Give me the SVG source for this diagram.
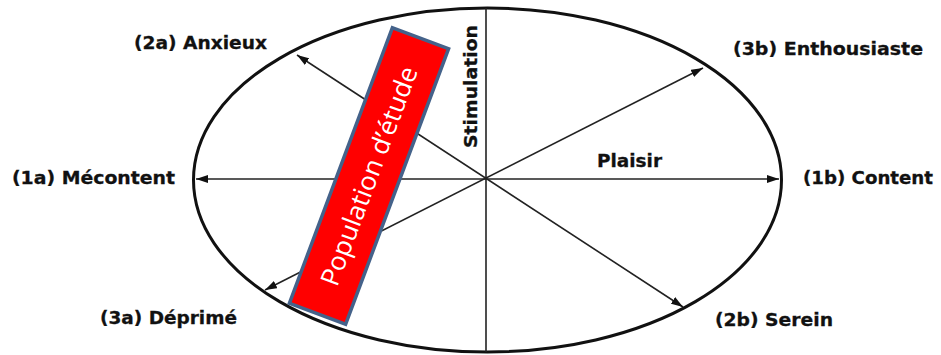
<svg xmlns="http://www.w3.org/2000/svg" width="941" height="355" viewBox="0 0 941 355">
<style>
.lbl{font-family:"DejaVu Sans",sans-serif;font-weight:bold;font-size:18px;fill:#111;stroke:#111;stroke-width:0.3}
.ax{stroke:#222;stroke-width:1.6;fill:none}
</style>
<defs>
<marker id="ah" viewBox="0 0 12 8" refX="12" refY="4" markerWidth="12" markerHeight="8" markerUnits="userSpaceOnUse" orient="auto-start-reverse">
<path d="M0,0 L12,4 L0,8 Z" fill="#111"/>
</marker>
</defs>
<rect width="941" height="355" fill="#fff"/>
<g id="ellipse">
<ellipse cx="487.5" cy="180" rx="294" ry="172" fill="none" stroke="#111" stroke-width="3"/>
</g>
<g id="connectors">
<line class="ax" x1="486" y1="8" x2="486" y2="352"/>
<line class="ax" x1="196" y1="179" x2="779" y2="179" marker-start="url(#ah)" marker-end="url(#ah)"/>
<line class="ax" x1="297" y1="55" x2="683" y2="307" marker-start="url(#ah)" marker-end="url(#ah)"/>
<line class="ax" x1="703" y1="68" x2="265" y2="290" marker-start="url(#ah)" marker-end="url(#ah)"/>
</g>
<g id="stimulation">
<rect x="455" y="22" width="25" height="130" fill="#fff"/>
<text class="lbl" transform="translate(477,148) rotate(-90)" textLength="123" lengthAdjust="spacingAndGlyphs" font-size="19">Stimulation</text>
</g>
<g id="plaisir">
<text class="lbl" x="597" y="167" textLength="65" lengthAdjust="spacingAndGlyphs">Plaisir</text>
</g>
<g id="n1a"><text class="lbl" x="12" y="184" textLength="163" lengthAdjust="spacingAndGlyphs">(1a) Mécontent</text></g>
<g id="n1b"><text class="lbl" x="803" y="184" textLength="130" lengthAdjust="spacingAndGlyphs">(1b) Content</text></g>
<g id="n2a"><text class="lbl" x="134" y="49" textLength="133" lengthAdjust="spacingAndGlyphs">(2a) Anxieux</text></g>
<g id="n2b"><text class="lbl" x="715" y="326" textLength="118" lengthAdjust="spacingAndGlyphs">(2b) Serein</text></g>
<g id="n3a"><text class="lbl" x="100" y="324" textLength="137" lengthAdjust="spacingAndGlyphs">(3a) Déprimé</text></g>
<g id="n3b"><text class="lbl" x="733" y="55" textLength="190" lengthAdjust="spacingAndGlyphs">(3b) Enthousiaste</text></g>
<g id="population" transform="translate(369,176) rotate(20.5)">
<rect x="-30" y="-147" width="60" height="294" fill="#ff0000" stroke="#44628A" stroke-width="3.5"/>
<text transform="rotate(-90)" x="0" y="0" dy="0.35em" text-anchor="middle" font-family="'Open Sans',sans-serif" font-size="26" fill="#fff" textLength="232" lengthAdjust="spacingAndGlyphs">Population d’étude</text>
</g>
</svg>
